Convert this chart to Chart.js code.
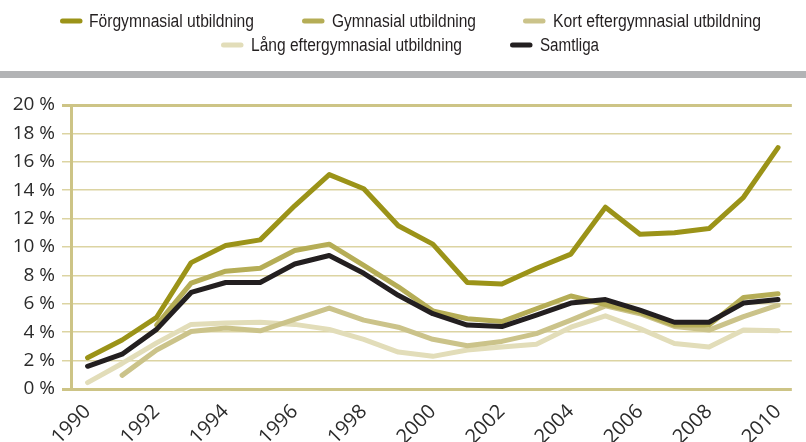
<!DOCTYPE html>
<html>
<head>
<meta charset="utf-8">
<script src="https://cdn.jsdelivr.net/npm/chart.js@4"></script>
<style>
  html, body { margin: 0; padding: 0; background: #fff; }
  canvas { display: block; }
</style>
</head>
<body>
<canvas id="c" width="806" height="442"></canvas>
<script>
const years = [1990,1991,1992,1993,1994,1995,1996,1997,1998,1999,2000,2001,2002,2003,2004,2005,2006,2007,2008,2009,2010];
const xTickLabels = [1990,1992,1994,1996,1998,2000,2002,2004,2006,2008,2010];
const yTickValues = [0,2,4,6,8,10,12,14,16,18,20];

const seriesNames = ["Förgymnasial utbildning","Gymnasial utbildning","Kort eftergymnasial utbildning","Lång eftergymnasial utbildning","Samtliga"];
const forgymnasial = [2.2,3.45,5.05,8.9,10.1,10.5,12.9,15.1,14.1,11.5,10.2,7.5,7.4,8.5,9.5,12.8,10.9,11.0,11.3,13.5,17.0];
const gymnasial    = [null,null,4.5,7.45,8.3,8.5,9.75,10.2,8.7,7.2,5.5,4.95,4.75,5.65,6.55,5.95,5.4,4.5,4.5,6.45,6.7];
const kort         = [null,0.96,2.75,4.05,4.3,4.1,4.9,5.7,4.85,4.35,3.5,3.05,3.35,3.9,4.85,5.85,5.3,4.4,4.15,5.1,5.9];
const lang         = [0.45,1.8,3.25,4.55,4.65,4.7,4.55,4.2,3.5,2.6,2.3,2.75,2.95,3.15,4.35,5.15,4.25,3.2,2.95,4.15,4.1];
const samtliga     = [1.6,2.45,4.2,6.8,7.5,7.5,8.8,9.4,8.15,6.6,5.3,4.5,4.4,5.2,6.05,6.3,5.55,4.7,4.7,6.05,6.3];

const colors = ["#9b9318","#b5ad56","#cbc38a","#e2ddb9","#231f20"];
const seriesData = [forgymnasial, gymnasial, kort, lang, samtliga];
const drawOrder = [1,2,3,4,0];

// legend placement: swatch left x, row centre y, text left x, text target width
const legendLayout = [
  {x:60,  y:21, tx:89,  w:165},
  {x:302, y:21, tx:332, w:144},
  {x:523, y:21, tx:553, w:208},
  {x:221, y:45, tx:251, w:211},
  {x:510, y:45, tx:540, w:59}
];

const headerPlugin = {
  id: 'header',
  beforeDraw(chart) {
    const ctx = chart.ctx;
    ctx.save();
    ctx.fillStyle = '#ffffff';
    ctx.fillRect(0, 0, chart.width, chart.height);
    ctx.fillStyle = '#b2b3b5';
    ctx.fillRect(0, 71, chart.width, 7);
    ctx.restore();
  },
  afterDraw(chart) {
    const ctx = chart.ctx;
    ctx.save();
    ctx.font = "18px 'Liberation Sans', 'DejaVu Sans', sans-serif";
    ctx.textBaseline = 'middle';
    ctx.textAlign = 'left';
    chart.data.datasets.forEach((ds, i) => {
      const L = legendLayout[i];
      ctx.beginPath();
      ctx.lineCap = 'round';
      ctx.lineWidth = 5;
      ctx.strokeStyle = ds.borderColor;
      ctx.moveTo(L.x + 2.5, L.y);
      ctx.lineTo(L.x + 20, L.y);
      ctx.stroke();
      const w = ctx.measureText(ds.label).width;
      ctx.save();
      ctx.translate(L.tx, L.y + 1);
      ctx.scale(L.w / w, 1);
      ctx.fillStyle = '#231f20';
      ctx.fillText(ds.label, 0, 0);
      ctx.restore();
    });
    ctx.restore();
  }
};

const tickFont = { family: "'Open Sans', 'Noto Sans', sans-serif", size: 19 };
const xTickFont = { family: "'Open Sans', 'Noto Sans', sans-serif", size: 20 };

new Chart(document.getElementById('c'), {
  type: 'line',
  data: {
    datasets: seriesNames.map((name, i) => ({
      label: name,
      data: years.map((y, k) => ({ x: y, y: seriesData[i][k] })),
      borderColor: colors[i],
      backgroundColor: colors[i],
      borderWidth: 5,
      pointRadius: 0,
      borderCapStyle: 'round',
      borderJoinStyle: 'round',
      tension: 0,
      spanGaps: false,
      order: drawOrder[i]
    }))
  },
  plugins: [headerPlugin],
  options: {
    responsive: false,
    animation: false,
    layout: { padding: { top: 105, left: 0, right: 0, bottom: 0 } },
    plugins: { legend: { display: false }, tooltip: { enabled: false } },
    scales: {
      x: {
        type: 'linear',
        min: 1989.52,
        max: 2010.4,
        afterBuildTicks: (s) => { s.ticks = xTickLabels.map(v => ({ value: v })); },
        afterFit: (s) => { s.height = 442 - 389; },
        grid: { display: true, drawOnChartArea: false, drawTicks: false, color: 'rgba(0,0,0,0)' },
        border: { display: false },
        ticks: {
          font: xTickFont, color: '#2b2b2b',
          minRotation: 45, maxRotation: 45, padding: 11,
          autoSkip: false,
          callback: (v) => String(v)
        }
      },
      y: {
        min: 0, max: 20,
        afterBuildTicks: (s) => { s.ticks = yTickValues.map(v => ({ value: v })); },
        afterFit: (s) => { s.width = 71; },
        grid: {
          color: (ctx) => (ctx.tick && (ctx.tick.value === 0 || ctx.tick.value === 20)) ? '#cdc486' : '#dcd4a2',
          lineWidth: (ctx) => (ctx.tick && (ctx.tick.value === 0 || ctx.tick.value === 20)) ? 3 : 1.5,
          tickLength: 9,
          drawTicks: true
        },
        border: { display: true, color: '#cdc486', width: 3 },
        ticks: {
          font: tickFont, color: '#2b2b2b', padding: 7,
          callback: (v) => v + ' %'
        }
      }
    }
  }
});
</script>
</body>
</html>
